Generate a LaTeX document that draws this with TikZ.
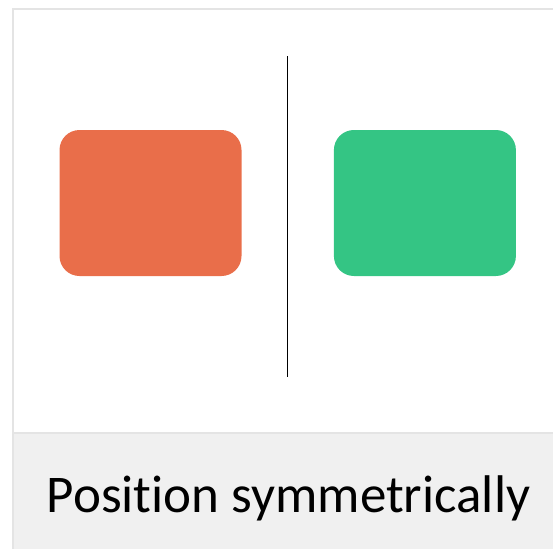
\documentclass[tikz,border=0pt]{standalone}
\usepackage{fontspec}
\setmainfont[Ligatures=NoCommon]{Carlito}
\usetikzlibrary{positioning}
\definecolor{boxorange}{HTML}{E96E4A}
\definecolor{boxgreen}{HTML}{34C584}
\definecolor{framegray}{HTML}{E4E4E4}
\definecolor{bandgray}{HTML}{F0F0F0}
\tikzset{
  block/.style={rounded corners=20pt, minimum width=182pt, minimum height=146pt, inner sep=0pt},
  frameline/.style={draw=framegray, line width=2pt}
}

\begin{document}
\begin{tikzpicture}[x=1pt,y=-1pt]
\useasboundingbox (0,0) rectangle (553,549);

% caption band
\fill[bandgray] (13,433) rectangle (553,549);
\draw[frameline] (13,549) -- (13,9) -- (553,9);
\draw[frameline] (13,433) -- (553,433);

% the two blocks
\node[block, fill=boxorange] (left) at (150.5,203) {};
\node[block, fill=boxgreen, right=92pt of left] (right) {};

% symmetry axis
\coordinate (top) at (287.5,56);
\coordinate (bot) at (287.5,377);
\draw[line width=1.2pt] (top) -- (bot);

\node[anchor=base, font=\fontsize{53}{60}\selectfont] (caption) at (288.5,512) {Position symmetrically};
\end{tikzpicture}
\end{document}
